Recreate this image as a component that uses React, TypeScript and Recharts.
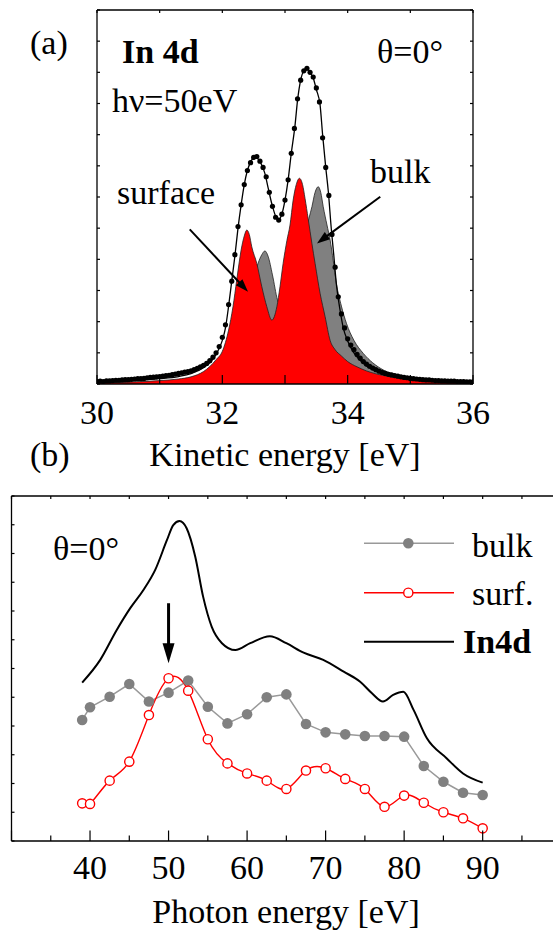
import React from 'react';
import { ComposedChart, Line, Area, XAxis, YAxis, ReferenceLine } from 'recharts';

const FONT = '"Liberation Serif", "Times New Roman", Times, serif';
const FS = 34;

// ---------------- Panel (a): In 4d spectrum, hv = 50 eV ----------------
// experimental points (dots), every 0.05 eV from 30 to 36 eV
const expCounts = [
  0.08, 0.09, 0.08, 0.10, 0.10, 0.11, 0.12, 0.12, 0.13, 0.14,
  0.14, 0.15, 0.16, 0.17, 0.17, 0.18, 0.20, 0.21, 0.22, 0.23,
  0.24, 0.25, 0.27, 0.28, 0.30, 0.32, 0.34, 0.36, 0.38, 0.40,
  0.42, 0.46, 0.50, 0.55, 0.60, 0.66, 0.75, 0.86, 1.00, 1.20,
  1.50, 1.90, 2.55, 3.30, 4.15, 5.05, 5.75, 6.40, 6.85, 7.10,
  7.27, 7.30, 7.15, 6.95, 6.65, 6.15, 5.70, 5.35, 5.26, 5.45,
  5.90, 6.55, 7.40, 8.20, 9.15, 9.75, 10.05, 10.13, 10.00, 9.85,
  9.50, 9.05, 7.90, 6.95, 6.05, 4.80, 3.75, 2.80, 2.25, 1.80,
  1.45, 1.25, 1.10, 0.95, 0.83, 0.72, 0.64, 0.57, 0.51, 0.46,
  0.41, 0.37, 0.34, 0.31, 0.29, 0.27, 0.25, 0.23, 0.21, 0.20,
  0.18, 0.17, 0.16, 0.15, 0.14, 0.13, 0.13, 0.12, 0.11, 0.11,
  0.10, 0.10, 0.09, 0.09, 0.09, 0.08, 0.08, 0.08, 0.07, 0.07,
  0.07,
];
const expEnergy = expCounts.map((_, i) => Math.round((30 + i * 0.05) * 100) / 100);

// fit envelope
const fitEnergy = [30, 30.5, 31, 31.3, 31.5, 31.7, 31.8, 31.9, 32.0, 32.05, 32.1, 32.15, 32.2, 32.25, 32.3, 32.35, 32.4, 32.45, 32.52, 32.58, 32.63, 32.68, 32.73, 32.8, 32.89, 32.95, 33.0, 33.05, 33.1, 33.16, 33.2, 33.25, 33.3, 33.35, 33.4, 33.45, 33.5, 33.56, 33.6, 33.65, 33.69, 33.74, 33.78, 33.82, 33.88, 33.93, 34.0, 34.1, 34.2, 34.3, 34.45, 34.6, 34.8, 35.0, 35.5, 36];
const fitCounts = [0.06, 0.1, 0.17, 0.24, 0.33, 0.52, 0.68, 0.95, 1.4, 1.8, 2.5, 3.3, 4.1, 5.0, 5.75, 6.4, 6.85, 7.12, 7.28, 7.2, 7.02, 6.75, 6.3, 5.7, 5.26, 5.45, 5.9, 6.55, 7.4, 8.3, 9.1, 9.75, 10.05, 10.13, 10.0, 9.82, 9.45, 8.95, 8.0, 6.95, 6.2, 4.95, 4.1, 3.2, 2.35, 1.8, 1.38, 1.0, 0.76, 0.58, 0.42, 0.31, 0.22, 0.15, 0.08, 0.05];

// surface component (red)
const surfEnergy = [30, 30.5, 31, 31.3, 31.5, 31.7, 31.8, 31.9, 32.0, 32.1, 32.17, 32.23, 32.3, 32.35, 32.39, 32.43, 32.47, 32.55, 32.63, 32.71, 32.79, 32.87, 32.92, 32.97, 33.03, 33.08, 33.13, 33.18, 33.23, 33.28, 33.32, 33.37, 33.43, 33.48, 33.56, 33.64, 33.72, 33.8, 33.9, 34.0, 34.15, 34.3, 34.6, 35.0, 35.5, 36];
const surfCounts = [0.03, 0.06, 0.11, 0.16, 0.23, 0.4, 0.56, 0.78, 1.05, 1.73, 2.48, 3.34, 4.3, 4.75, 4.94, 4.8, 4.4, 3.87, 3.12, 2.48, 2.05, 2.48, 3.12, 3.87, 4.6, 5.1, 5.9, 6.4, 6.6, 6.4, 5.95, 5.3, 4.5, 3.87, 2.91, 2.16, 1.4, 1.1, 0.9, 0.72, 0.55, 0.42, 0.26, 0.15, 0.08, 0.05];

// bulk component (grey)
const bulkEnergy = [30, 30.5, 31, 31.5, 31.8, 32.0, 32.2, 32.35, 32.45, 32.57, 32.63, 32.68, 32.73, 32.8, 32.88, 32.95, 33.0, 33.1, 33.2, 33.3, 33.38, 33.43, 33.48, 33.53, 33.57, 33.61, 33.67, 33.72, 33.77, 33.82, 33.9, 33.98, 34.1, 34.25, 34.4, 34.57, 34.8, 35.0, 35.5, 36];
const bulkCounts = [0.03, 0.05, 0.08, 0.15, 0.3, 0.55, 1.1, 1.9, 2.9, 3.87, 4.15, 4.27, 4.1, 3.5, 2.7, 2.4, 2.4, 2.8, 3.6, 4.6, 5.3, 5.69, 6.15, 6.33, 6.15, 5.69, 5.1, 4.62, 3.95, 3.23, 2.5, 1.95, 1.4, 0.98, 0.68, 0.45, 0.28, 0.18, 0.08, 0.04];

const keTicks = [30, 31, 32, 33, 34, 35, 36];
const keLabels = [30, 32, 34, 36];
const yTicksA = [0, 1, 2, 3, 4, 5, 6, 7, 8, 9, 10, 11, 12];

// ---------------- Panel (b): photon-energy dependence ----------------
const photonEnergy = [39, 40, 42.5, 45, 47.5, 50, 52.5, 55, 57.5, 60, 62.5, 65, 67.5, 70, 72.5, 75, 77.5, 80, 82.5, 85, 87.5, 90];
const bulkWeight = [4.21, 4.65, 5.02, 5.46, 4.85, 5.16, 5.58, 4.67, 4.09, 4.41, 5.0, 5.10, 4.07, 3.78, 3.71, 3.65, 3.65, 3.63, 2.61, 2.06, 1.68, 1.60];
const surfWeight = [1.31, 1.29, 2.10, 2.76, 4.38, 5.66, 5.23, 3.54, 2.70, 2.35, 2.10, 1.81, 2.45, 2.53, 2.16, 1.81, 1.19, 1.58, 1.33, 1.00, 0.79, 0.44];
const in4dEnergy = [39, 41.3, 43.4, 45.1, 46.8, 48.3, 49.8, 50.6, 51.4, 52.3, 53.4, 54.4, 55.5, 56.8, 58.5, 60.4, 62.9, 65, 67.2, 69.7, 72.3, 74.4, 75.9, 77.3, 78.6, 79.9, 81.2, 82.9, 85.4, 87.5, 90];
const in4dIntensity = [5.51, 6.30, 7.34, 8.09, 8.73, 9.43, 10.47, 10.99, 11.13, 10.88, 9.89, 8.50, 7.45, 6.88, 6.64, 6.88, 7.12, 6.88, 6.55, 6.30, 5.89, 5.54, 5.14, 4.85, 5.08, 5.19, 4.56, 3.57, 2.88, 2.35, 2.03];

const hvTicks = [30, 35, 40, 45, 50, 55, 60, 65, 70, 75, 80, 85, 90, 95, 100];
const hvLabels = [40, 50, 60, 70, 80, 90];
const yTicksB = [0, 1, 2, 3, 4, 5, 6, 7, 8, 9, 10, 11, 12];

// ---------------- helpers ----------------
function buildTable(series: Record<string, [number[], number[]]>) {
  const map = new Map<number, any>();
  Object.keys(series).forEach((key) => {
    const [xs, ys] = series[key];
    xs.forEach((x, i) => {
      const row = map.get(x) ?? { x };
      row[key] = ys[i];
      map.set(x, row);
    });
  });
  return Array.from(map.values()).sort((a, b) => a.x - b.x);
}

const tableA = buildTable({
  exp: [expEnergy, expCounts],
  fit: [fitEnergy, fitCounts],
  surf: [surfEnergy, surfCounts],
  bulk: [bulkEnergy, bulkCounts],
});

const tableB = buildTable({
  bulk: [photonEnergy, bulkWeight],
  surf: [photonEnergy, surfWeight],
  in4d: [in4dEnergy, in4dIntensity],
});

const AX = { stroke: '#000', strokeWidth: 1.3 };

// bottom ticks (inward), plus matching inward ticks on the top frame edge
const bottomTick =
  (lenFn: (v: number) => number, labels: number[], dy: number, plotH: number, topLen: number) =>
  (p: any) => {
    const { x, y, payload } = p;
    const v = payload.value;
    return (
      <g>
        <line x1={x} x2={x} y1={y} y2={y - lenFn(v)} stroke="#000" strokeWidth={1.2} />
        <line x1={x} x2={x} y1={y - plotH} y2={y - plotH + topLen} stroke="#000" strokeWidth={1.2} />
        {labels.includes(v) ? (
          <text x={x} y={y + dy} textAnchor="middle" fontFamily={FONT} fontSize={FS} fill="#000">
            {v}
          </text>
        ) : null}
      </g>
    );
  };
// left ticks (inward), plus optional matching ticks on the right frame edge
const leftTick = (len: number, plotW: number | null) => (p: any) => (
  <g>
    <line x1={p.x} x2={p.x + len} y1={p.y} y2={p.y} stroke="#000" strokeWidth={1.2} />
    {plotW !== null ? (
      <line x1={p.x + plotW} x2={p.x + plotW - len} y1={p.y} y2={p.y} stroke="#000" strokeWidth={1.2} />
    ) : null}
  </g>
);

const arrowShape = (headLen: number, headW: number, sw: number) => (p: any) => {
  const { x1, y1, x2, y2 } = p;
  const dx = x2 - x1;
  const dy = y2 - y1;
  const L = Math.hypot(dx, dy) || 1;
  const ux = dx / L;
  const uy = dy / L;
  const bx = x2 - ux * headLen;
  const by = y2 - uy * headLen;
  const px = -uy;
  const py = ux;
  return (
    <g>
      <line x1={x1} y1={y1} x2={bx + ux * 2} y2={by + uy * 2} stroke="#000" strokeWidth={sw} />
      <polygon
        points={`${x2},${y2} ${bx + px * headW},${by + py * headW} ${bx - px * headW},${by - py * headW}`}
        fill="#000"
      />
    </g>
  );
};

const surfArrow = [{ x: 31.48, y: 4.96 }, { x: 32.41, y: 2.96 }];
const bulkArrow = [{ x: 34.52, y: 6.01 }, { x: 33.51, y: 4.51 }];
const hvArrow = [{ x: 50, y: 8.27 }, { x: 50, y: 6.18 }];

function PanelA() {
  return (
    <ComposedChart
      width={553}
      height={480}
      data={tableA}
      margin={{ top: 10, right: 80, bottom: 56, left: 96 }}
    >
      <XAxis
        dataKey="x"
        type="number"
        domain={[30, 36]}
        ticks={keTicks}
        interval={0}
        height={40}
        tickSize={0}
        tickMargin={0}
        tickLine={false}
        axisLine={AX}
        tick={bottomTick(() => 9, keLabels, 40, 374, 3)}
        allowDataOverflow
      />
      <YAxis
        type="number"
        domain={[0, 12]}
        ticks={yTicksA}
        interval={0}
        width={1}
        tickSize={0}
        tickMargin={0}
        tickLine={false}
        axisLine={AX}
        tick={leftTick(3, 376)}
        allowDataOverflow
      />
      <Area
        dataKey="bulk"
        type="monotone"
        connectNulls
        fill="#808080"
        fillOpacity={1}
        stroke="#222"
        strokeWidth={0.8}
        isAnimationActive={false}
        dot={false}
        activeDot={false}
      />
      <Area
        dataKey="surf"
        type="monotone"
        connectNulls
        fill="#ff0000"
        fillOpacity={1}
        stroke="#222"
        strokeWidth={0.8}
        isAnimationActive={false}
        dot={false}
        activeDot={false}
      />
      <Line
        dataKey="fit"
        type="monotone"
        connectNulls
        stroke="#000"
        strokeWidth={1.3}
        dot={false}
        activeDot={false}
        isAnimationActive={false}
      />
      <Line
        dataKey="exp"
        type="monotone"
        connectNulls
        stroke="none"
        strokeWidth={0}
        dot={{ r: 2.6, fill: '#000', stroke: 'none' }}
        activeDot={false}
        isAnimationActive={false}
      />
      <ReferenceLine y={12} stroke="#000" strokeWidth={1.3} />
      <ReferenceLine x={36} stroke="#000" strokeWidth={1.3} />
      <ReferenceLine segment={surfArrow} shape={arrowShape(13, 4.5, 2)} ifOverflow="visible" />
      <ReferenceLine segment={bulkArrow} shape={arrowShape(13, 4.5, 2)} ifOverflow="visible" />
    </ComposedChart>
  );
}

function PanelB() {
  return (
    <ComposedChart
      width={600}
      height={454}
      data={tableB}
      margin={{ top: 16, right: 38.8, bottom: 33, left: 10.5 }}
    >
      <XAxis
        dataKey="x"
        type="number"
        domain={[30, 100]}
        ticks={hvTicks}
        interval={0}
        height={60}
        tickSize={0}
        tickMargin={0}
        tickLine={false}
        axisLine={AX}
        tick={bottomTick((v) => (v % 10 === 0 ? 10.5 : 5.5), hvLabels, 38, 345, 3)}
        allowDataOverflow
      />
      <YAxis
        type="number"
        domain={[0, 12]}
        ticks={yTicksB}
        interval={0}
        width={1}
        tickSize={0}
        tickMargin={0}
        tickLine={false}
        axisLine={AX}
        tick={leftTick(3, null)}
        allowDataOverflow
      />
      <Line
        dataKey="in4d"
        type="monotone"
        connectNulls
        stroke="#000"
        strokeWidth={2}
        dot={false}
        activeDot={false}
        isAnimationActive={false}
      />
      <Line
        dataKey="bulk"
        type="linear"
        connectNulls
        stroke="#999999"
        strokeWidth={1.5}
        dot={{ r: 5.3, fill: '#808080', stroke: 'none' }}
        activeDot={false}
        isAnimationActive={false}
      />
      <Line
        dataKey="surf"
        type="natural"
        connectNulls
        stroke="#ff0000"
        strokeWidth={1.4}
        dot={{ r: 4.6, fill: '#fff', stroke: '#ff0000', strokeWidth: 1.4 }}
        activeDot={false}
        isAnimationActive={false}
      />
      <ReferenceLine y={12} stroke="#000" strokeWidth={1.3} />
      <ReferenceLine segment={hvArrow} shape={arrowShape(20, 6, 3)} ifOverflow="visible" />
    </ComposedChart>
  );
}

const txt = { fontFamily: FONT, fontSize: FS, fill: '#000' } as const;

export default function App() {
  return (
    <div
      style={{
        position: 'absolute',
        left: 0,
        top: 0,
        width: 553,
        height: 934,
        overflow: 'hidden',
        background: '#fff',
      }}
    >
      <div style={{ position: 'absolute', left: 0, top: 0 }}>
        <PanelA />
      </div>
      <div style={{ position: 'absolute', left: 0, top: 480 }}>
        <PanelB />
      </div>
      <svg
        width={553}
        height={934}
        style={{ position: 'absolute', left: 0, top: 0, pointerEvents: 'none' }}
      >
        {/* panel (a) annotations */}
        <text x={30} y={54} {...txt}>(a)</text>
        <text x={122} y={63} {...txt} fontWeight="bold">In 4d</text>
        <text x={377} y={63} {...txt}>θ=0°</text>
        <text x={112} y={112} {...txt}>hν=50eV</text>
        <text x={370} y={183} {...txt}>bulk</text>
        <text x={117} y={204} {...txt}>surface</text>
        <text x={285} y={466} {...txt} textAnchor="middle">Kinetic energy [eV]</text>
        {/* panel (b) annotations */}
        <text x={30} y={466} {...txt}>(b)</text>
        <text x={53} y={560} {...txt}>θ=0°</text>
        <text x={286} y={923} {...txt} textAnchor="middle">Photon energy [eV]</text>
        {/* legend */}
        <line x1={364} x2={454} y1={543.3} y2={543.3} stroke="#999999" strokeWidth={1.5} />
        <circle cx={408.3} cy={543.3} r={5.3} fill="#808080" />
        <text x={472} y={557} {...txt}>bulk</text>
        <line x1={364} x2={454} y1={592.7} y2={592.7} stroke="#ff0000" strokeWidth={1.4} />
        <circle cx={408.3} cy={592.7} r={4.6} fill="#fff" stroke="#ff0000" strokeWidth={1.4} />
        <text x={472} y={605} {...txt}>surf.</text>
        <line x1={364} x2={454} y1={641.7} y2={641.7} stroke="#000" strokeWidth={2} />
        <text x={463} y={653} {...txt} fontWeight="bold">In4d</text>
      </svg>
    </div>
  );
}
